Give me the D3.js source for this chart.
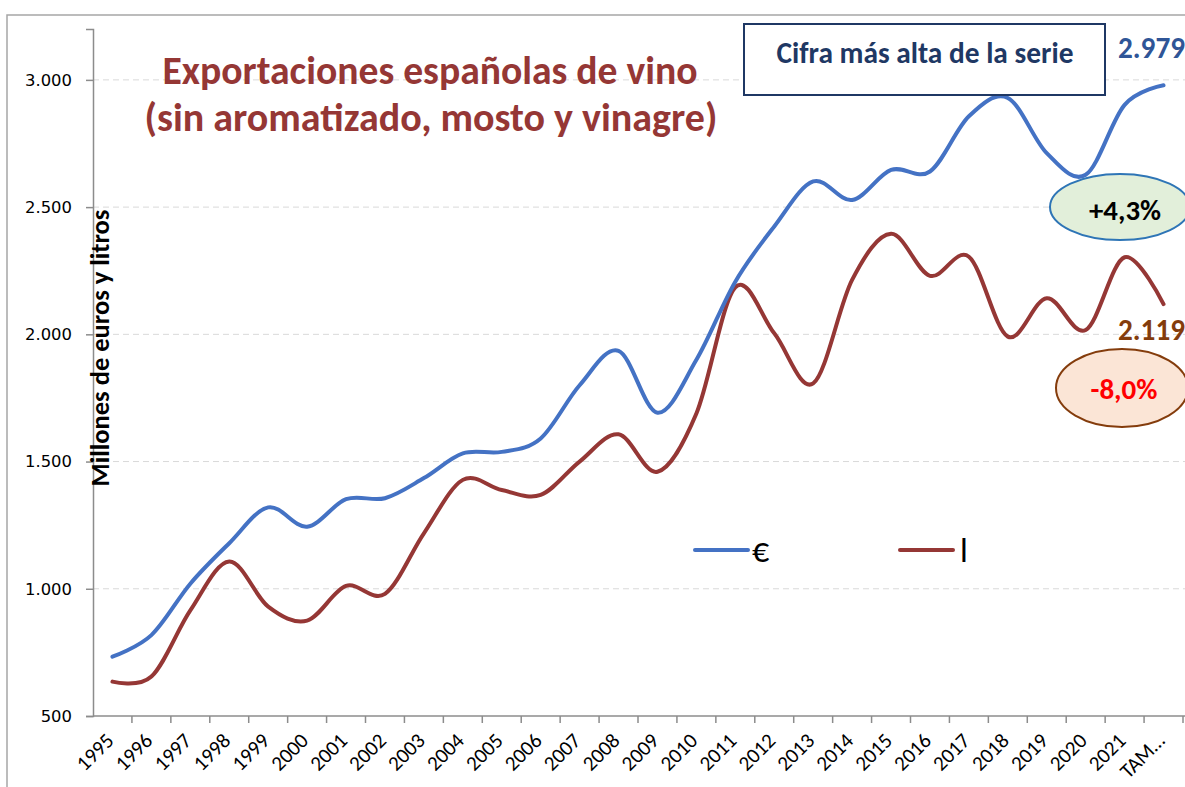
<!DOCTYPE html>
<html>
<head>
<meta charset="utf-8">
<script src="https://cdn.jsdelivr.net/npm/d3@7"></script>
<style>
  body { margin: 0; background: #fff; }
  svg { display: block; }
</style>
</head>
<body>
<div id="chart"></div>
<script>
// categories on the x axis
const years = ['1995', '1996', '1997', '1998', '1999', '2000', '2001', '2002', '2003', '2004',
  '2005', '2006', '2007', '2008', '2009', '2010', '2011', '2012', '2013', '2014',
  '2015', '2016', '2017', '2018', '2019', '2020', '2021', 'TAM…'];

// millones de euros
const euros = [733, 818, 1020, 1179, 1320, 1244, 1352, 1356, 1435, 1532,
  1538, 1591, 1800, 1935, 1692, 1900, 2207, 2424, 2601, 2528,
  2646, 2640, 2857, 2929, 2712, 2627, 2902, 2979];

// millones de litros
const litros = [635, 655, 915, 1107, 930, 875, 1011, 980, 1218, 1428,
  1388, 1369, 1500, 1607, 1460, 1689, 2185, 2004, 1807, 2214,
  2395, 2230, 2305, 1991, 2142, 2017, 2303, 2119];

const yTicks = [500, 1000, 1500, 2000, 2500, 3000];

const width = 1185, height = 787;
const calibri = "Carlito, Calibri, Lato, sans-serif";
const blue = '#4472C4', red = '#953735';

const svg = d3.select('#chart').append('svg')
  .attr('width', width)
  .attr('height', height);

// scale the font so the text takes the width it has in the picture
function fitText(sel, target) {
  const w = sel.node().getComputedTextLength();
  const fs = parseFloat(sel.attr('font-size'));
  sel.attr('font-size', fs * target / w);
  return sel;
}

// chart area border (left and top visible)
svg.append('rect')
  .attr('x', 7).attr('y', 15)
  .attr('width', 1300).attr('height', 900)
  .attr('fill', 'none')
  .attr('stroke', '#a6a6a6')
  .attr('stroke-width', 1.5);

const x = d3.scaleBand().domain(years).range([93, 1183]);
const y = d3.scaleLinear().domain([500, 3200]).range([716, 29]);
const fmt = d3.formatLocale({decimal: ',', thousands: '.', grouping: [3], currency: ['', '€']}).format(',d');

// gridlines
svg.append('g')
  .selectAll('line')
  .data(yTicks.slice(1))
  .join('line')
  .attr('x1', 93).attr('x2', width)
  .attr('y1', d => y(d)).attr('y2', d => y(d))
  .attr('stroke', '#d9d9d9')
  .attr('stroke-width', 1)
  .attr('stroke-dasharray', '6,4');

// y axis
const yAxis = svg.append('g')
  .attr('transform', 'translate(93,0)')
  .call(d3.axisLeft(y).tickValues(yTicks).tickFormat(fmt).tickSize(7).tickPadding(14));
yAxis.select('.domain').attr('stroke', '#8c8c8c').attr('stroke-width', 1.5);
yAxis.selectAll('.tick line').attr('stroke', '#8c8c8c').attr('stroke-width', 1.5);
const yLabels = yAxis.selectAll('.tick text')
  .attr('font-family', "'DejaVu Sans', Verdana, sans-serif")
  .attr('font-size', 16)
  .attr('fill', '#000');
// size taken from the widest label ("3.000" is 47px wide)
const ySize = parseFloat(fitText(d3.select(yLabels.nodes()[yLabels.size() - 1]), 47).attr('font-size'));
yLabels.attr('font-size', ySize);

// x axis: ticks between categories
const xAxis = svg.append('g').attr('transform', 'translate(0,716)');
xAxis.append('line')
  .attr('x1', 93).attr('x2', width)
  .attr('stroke', '#8c8c8c').attr('stroke-width', 1.5);
xAxis.selectAll('.xtick')
  .data(years)
  .join('line')
  .attr('class', 'xtick')
  .attr('x1', d => x(d) + x.bandwidth()).attr('x2', d => x(d) + x.bandwidth())
  .attr('y1', 0).attr('y2', 7)
  .attr('stroke', '#8c8c8c').attr('stroke-width', 1.5);
xAxis.selectAll('.xlabel')
  .data(years)
  .join('text')
  .attr('class', 'xlabel')
  .attr('text-anchor', 'end')
  .attr('transform', d => `translate(${x(d) + x.bandwidth() / 2 + 2.5},${26}) rotate(-45)`)
  .attr('font-family', calibri)
  .attr('font-size', 21)
  .attr('fill', '#000')
  .text(d => d);

// y axis title
const yTitle = svg.append('text')
  .attr('transform', 'translate(109,348) rotate(-90)')
  .attr('text-anchor', 'middle')
  .attr('font-family', calibri)
  .attr('font-weight', 'bold')
  .attr('font-size', 20)
  .attr('fill', '#000')
  .text('Millones de euros y litros');
fitText(yTitle, 277);

// the two series
const line = d3.line()
  .x((d, i) => x(years[i]) + x.bandwidth() / 2)
  .y(d => y(d))
  .curve(d3.curveCatmullRom.alpha(0));

svg.append('path')
  .datum(litros)
  .attr('d', line)
  .attr('fill', 'none')
  .attr('stroke', red)
  .attr('stroke-width', 4)
  .attr('stroke-linecap', 'round');
svg.append('path')
  .datum(euros)
  .attr('d', line)
  .attr('fill', 'none')
  .attr('stroke', blue)
  .attr('stroke-width', 4)
  .attr('stroke-linecap', 'round');

// title
const t1 = svg.append('text')
  .attr('x', 430).attr('y', 84)
  .attr('text-anchor', 'middle')
  .attr('font-family', calibri).attr('font-weight', 'bold')
  .attr('font-size', 34).attr('fill', red)
  .text('Exportaciones españolas de vino');
fitText(t1, 535);
const t2 = svg.append('text')
  .attr('x', 431).attr('y', 131)
  .attr('text-anchor', 'middle')
  .attr('font-family', calibri).attr('font-weight', 'bold')
  .attr('font-size', 34).attr('fill', red)
  .text('(sin aromatizado, mosto y vinagre)');
fitText(t2, 573);

// highlight box
svg.append('rect')
  .attr('x', 744).attr('y', 24)
  .attr('width', 361).attr('height', 71)
  .attr('fill', '#fff')
  .attr('stroke', '#1f3864')
  .attr('stroke-width', 2);
const boxText = svg.append('text')
  .attr('x', 925).attr('y', 63)
  .attr('text-anchor', 'middle')
  .attr('font-family', calibri).attr('font-weight', 'bold')
  .attr('font-size', 22).attr('fill', '#1f3864')
  .text('Cifra más alta de la serie');
fitText(boxText, 297);

// last value labels
const lastE = svg.append('text')
  .attr('x', 1118).attr('y', 58)
  .attr('font-family', calibri).attr('font-weight', 'bold')
  .attr('font-size', 24).attr('fill', '#2f5597')
  .text(fmt(euros[euros.length - 1]));
fitText(lastE, 67);
const lastL = svg.append('text')
  .attr('x', 1118).attr('y', 340)
  .attr('font-family', calibri).attr('font-weight', 'bold')
  .attr('font-size', 24).attr('fill', '#843c0c')
  .text(fmt(litros[litros.length - 1]));
fitText(lastL, 67);

// variation bubbles
svg.append('ellipse')
  .attr('cx', 1120).attr('cy', 207)
  .attr('rx', 70).attr('ry', 33)
  .attr('fill', '#e2efda')
  .attr('stroke', '#2e75b6')
  .attr('stroke-width', 2);
const pctE = svg.append('text')
  .attr('x', 1125).attr('y', 220)
  .attr('text-anchor', 'middle')
  .attr('font-family', calibri).attr('font-weight', 'bold')
  .attr('font-size', 24).attr('fill', '#000')
  .text('+4,3%');
fitText(pctE, 72);

svg.append('ellipse')
  .attr('cx', 1122).attr('cy', 388)
  .attr('rx', 66).attr('ry', 39)
  .attr('fill', '#fbe5d6')
  .attr('stroke', '#843c0c')
  .attr('stroke-width', 2);
const pctL = svg.append('text')
  .attr('x', 1124).attr('y', 399)
  .attr('text-anchor', 'middle')
  .attr('font-family', calibri).attr('font-weight', 'bold')
  .attr('font-size', 24).attr('fill', '#ff0000')
  .text('-8,0%');
fitText(pctL, 67);

// legend
const legend = [{name: '€', color: blue, x: 695}, {name: 'l', color: red, x: 900}];
const lg = svg.append('g').selectAll('g').data(legend).join('g')
  .attr('transform', d => `translate(${d.x},550)`);
lg.append('line')
  .attr('x1', 0).attr('x2', 53)
  .attr('stroke', d => d.color)
  .attr('stroke-width', 4)
  .attr('stroke-linecap', 'round');
lg.append('text')
  .attr('x', d => d.name === '€' ? 57 : 60)
  .attr('y', 12)
  .attr('font-family', calibri)
  .attr('font-size', 34)
  .attr('fill', '#000')
  .text(d => d.name);
</script>
</body>
</html>
